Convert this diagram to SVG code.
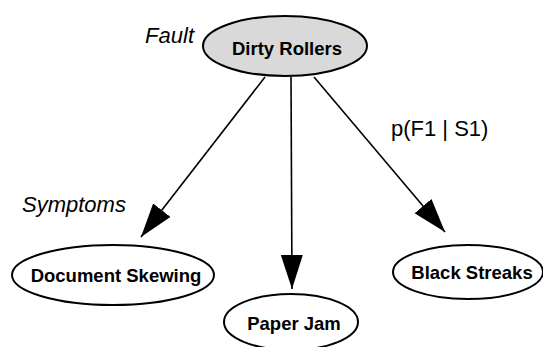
<svg xmlns="http://www.w3.org/2000/svg" width="543" height="347" viewBox="0 0 543 347">
<style>
.node{fill:#fff;stroke:#000;stroke-width:2}
.fault{fill:#d9d9d9;stroke:#000;stroke-width:2}
.nt{font-family:"Liberation Sans",Arial,sans-serif;font-weight:bold;font-size:18.5px;text-anchor:middle}
.lab{font-family:"Liberation Sans",Arial,sans-serif;font-size:22px}
.conn{stroke:#000;stroke-width:1.6;fill:none}
</style>
<defs>
<marker id="ah" markerUnits="userSpaceOnUse" markerWidth="36" markerHeight="24" refX="34" refY="11" orient="auto">
<polygon points="0,0 34,11 0,22" fill="#000"/>
</marker>
</defs>
<rect width="543" height="347" fill="#fff"/>
<g id="connectors">
<line class="conn" x1="265" y1="77" x2="141" y2="237" marker-end="url(#ah)"/>
<line class="conn" x1="291" y1="77" x2="292" y2="289" marker-end="url(#ah)"/>
<line class="conn" x1="314" y1="77" x2="445" y2="232" marker-end="url(#ah)"/>
</g>
<g id="dirty-rollers">
<ellipse class="fault" cx="285" cy="46" rx="82" ry="30"/>
<text class="nt" x="287" y="55">Dirty Rollers</text>
</g>
<g id="document-skewing">
<ellipse class="node" cx="113" cy="275" rx="101" ry="30"/>
<text class="nt" x="116" y="282">Document Skewing</text>
</g>
<g id="paper-jam">
<ellipse class="node" cx="291" cy="322" rx="67" ry="28"/>
<text class="nt" x="294" y="330">Paper Jam</text>
</g>
<g id="black-streaks">
<ellipse class="node" cx="468" cy="272" rx="75" ry="27"/>
<text class="nt" x="472" y="279">Black Streaks</text>
</g>
<g id="labels">
<text class="lab" x="194" y="43" text-anchor="end" font-style="italic">Fault</text>
<text class="lab" x="22" y="212" font-style="italic" font-size="23px">Symptoms</text>
<text class="lab" x="391" y="136">p(F1 | S1)</text>
</g>
</svg>
